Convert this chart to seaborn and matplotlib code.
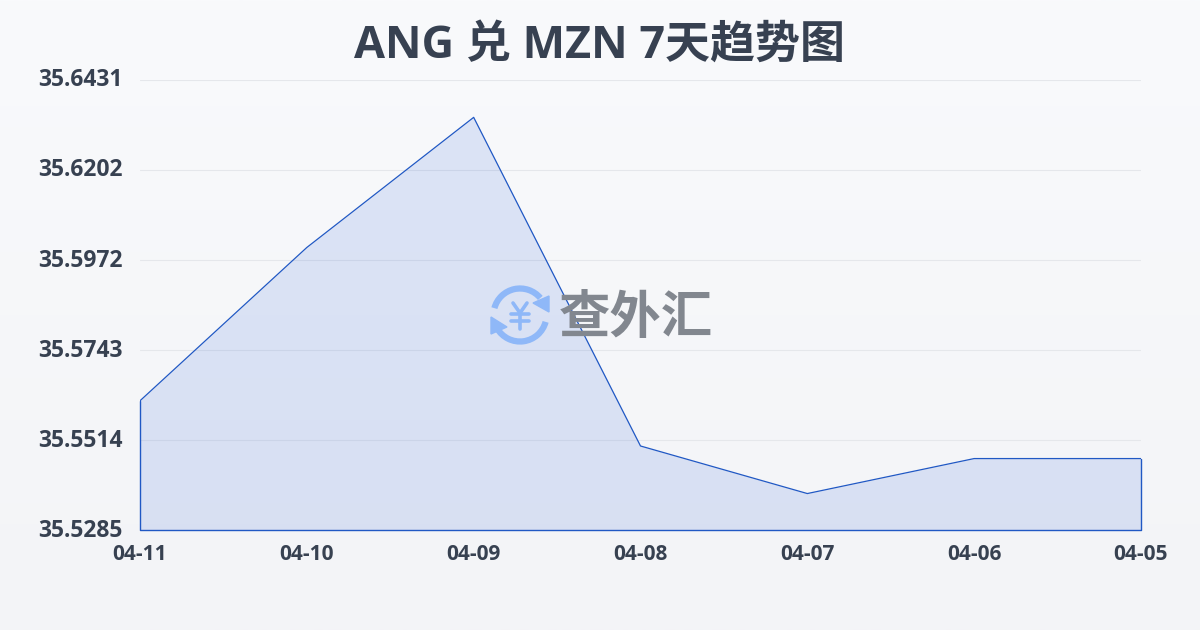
import numpy as np
import pandas as pd
import matplotlib
matplotlib.use('Agg')
import matplotlib.pyplot as plt
from matplotlib.patches import Arc, Polygon
from matplotlib.transforms import ScaledTranslation
import seaborn as sns

dates = ['04-11', '04-10', '04-09', '04-08', '04-07', '04-06', '04-05']
rates = [35.5615, 35.6005, 35.6336, 35.5500, 35.5379, 35.5468, 35.5468]
y_ticks = [35.5285, 35.5514, 35.5743, 35.5972, 35.6202, 35.6431]

sns.set_theme(style='white')
plt.rcParams['font.family'] = ['Open Sans', 'Noto Sans CJK SC', 'DejaVu Sans']

W, H = 1200, 630
fig = plt.figure(figsize=(12, 6.3), dpi=100)

# Background gradient
bg = fig.add_axes([0, 0, 1, 1], zorder=0)
bg.imshow(np.linspace(0, 1, 256).reshape(-1, 1), aspect='auto',
          cmap=matplotlib.colors.LinearSegmentedColormap.from_list('bg', ['#f9fafc', '#f3f4f7']))
bg.axis('off')

ax = fig.add_axes([140 / W, 1 - 530.5 / H, 1001 / W, 450.5 / H], zorder=1)
ax.patch.set_alpha(0)

df = pd.DataFrame({'date': dates, 'rate': rates})
sns.lineplot(data=df, x='date', y='rate', sort=False, color='#2058c4', linewidth=0.9, ax=ax, zorder=3)
xs = np.arange(len(dates))
ax.fill_between(xs, rates, y_ticks[0], facecolor='#2256d8', alpha=0.13, linewidth=0, zorder=2)
ax.plot([0, 0, 6, 6], [rates[0], y_ticks[0], y_ticks[0], rates[-1]], color='#2058c4', lw=1.0,
        clip_on=False, zorder=3)

ax.set_xlim(0, 6)
ax.set_ylim(y_ticks[0], y_ticks[-1])
ax.set_yticks(y_ticks)
ax.set_yticklabels([f'{v:.4f}' for v in y_ticks])
ax.set_xlabel('')
ax.set_ylabel('')
ax.grid(axis='y', color='#e5e7eb', linewidth=0.8)
ax.set_axisbelow(True)
for s in ax.spines.values():
    s.set_visible(False)
ax.tick_params(axis='y', length=0, pad=12.5, labelsize=16.5, labelcolor='#374151')
ax.tick_params(axis='x', length=10, width=0.8, color='#e5e7eb', pad=0, labelsize=15, labelcolor='#374151')
for lab in ax.get_xticklabels() + ax.get_yticklabels():
    lab.set_fontweight('bold')
for lab in ax.get_yticklabels():
    lab.set_transform(lab.get_transform() + ScaledTranslation(0, 2 / 72, fig.dpi_scale_trans))

fig.text(600 / W, 1 - 46 / H, 'ANG 兑 MZN 7天趋势图', ha='center', va='center',
         fontsize=32.4, fontweight='bold', color='#374151')

# Watermark, in pixel coordinates
wm = fig.add_axes([0, 0, 1, 1], zorder=2)
wm.set_xlim(0, W)
wm.set_ylim(H, 0)
wm.axis('off')
blue = '#8fb8f8'
wm.add_patch(Arc((520, 315), 53, 53, theta1=195, theta2=320, color=blue, lw=4.5))
wm.add_patch(Arc((520, 315), 53, 53, theta1=15, theta2=150, color=blue, lw=4.5))
wm.add_patch(Polygon([(549, 296), (549, 312), (533, 303)], color=blue))
wm.add_patch(Polygon([(491, 317), (491, 334), (507, 327)], color=blue))
# yen sign strokes
for xa, ya, xb, yb in [(513, 303, 520, 313), (527, 303, 520, 313), (520, 313, 520, 329),
                       (511, 314, 529, 314), (511, 321, 529, 321)]:
    wm.plot([xa, xb], [ya, yb], color=blue, lw=2.6, solid_capstyle='round')
wm.text(636, 318, '查外汇', ha='center', va='center', fontsize=37, fontweight='black',
        color='#82878f', family=['Noto Sans CJK SC'])

fig.savefig('out.png', dpi=100)
